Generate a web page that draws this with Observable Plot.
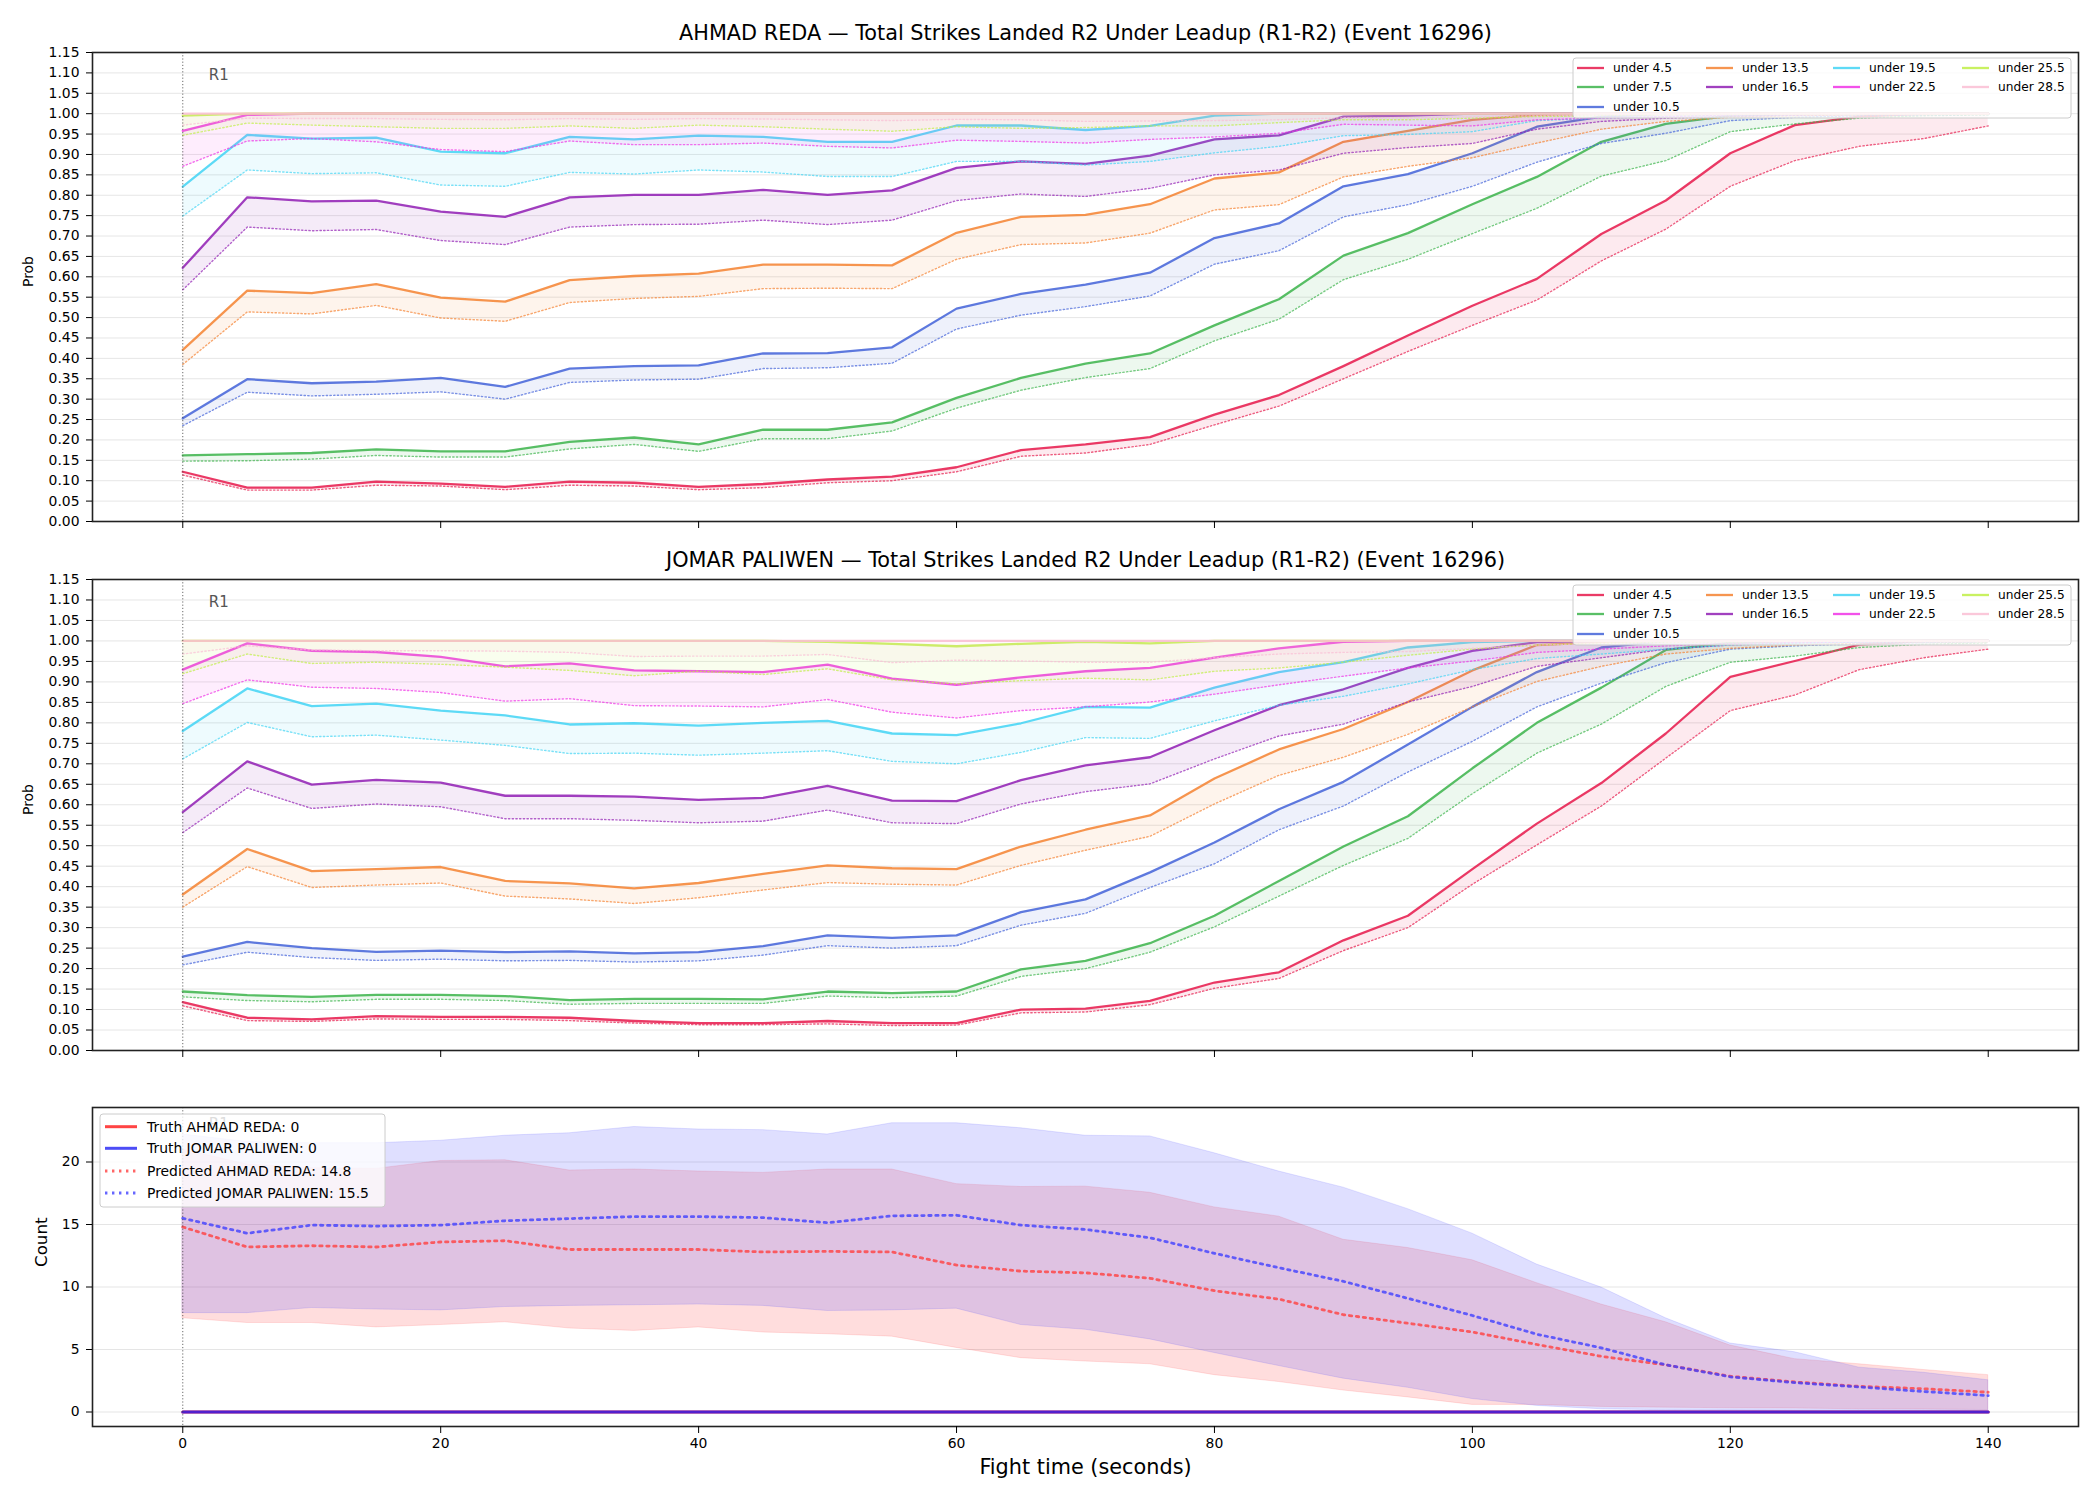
<!DOCTYPE html>
<html><head><meta charset="utf-8">
<script src="https://cdn.jsdelivr.net/npm/d3@7"></script>
<script src="https://cdn.jsdelivr.net/npm/@observablehq/plot@0.6"></script>
<style>
body{margin:0;background:#fff;}
#chart{position:relative;width:2100px;height:1500px;background:#fff;font-family:"DejaVu Sans",sans-serif;}
#chart svg{position:absolute;left:0;}
</style></head><body><div id="chart"></div>
<script>
// ---------- categories ----------
const times = [0,5,10,15,20,25,30,35,40,45,50,55,60,65,70,75,80,85,90,95,100,105,110,115,120,125,130,135,140];
const thresholds = ["under 4.5","under 7.5","under 10.5","under 13.5","under 16.5","under 19.5","under 22.5","under 25.5","under 28.5"];
const seriesColors = ["#e6194b","#3cb44b","#4363d8","#f58231","#911eb4","#42d4f4","#f032e6","#bfef45","#fabed4"];
const fighterA = "AHMAD REDA";
const fighterB = "JOMAR PALIWEN";
const titleSuffix = " — Total Strikes Landed R2 Under Leadup (R1-R2) (Event 16296)";
const roundMarks = [{label:"R1", t:0}];
const probTicks = [0,0.05,0.1,0.15,0.2,0.25,0.3,0.35,0.4,0.45,0.5,0.55,0.6,0.65,0.7,0.75,0.8,0.85,0.9,0.95,1,1.05,1.1,1.15];
const countTicks = [0,5,10,15,20];
const timeTicks = [0,20,40,60,80,100,120,140];

// ---------- AHMAD REDA: probability (solid = line, dotted = lower) ----------
const redaHi_4_5  = [0.122,0.083,0.083,0.098,0.093,0.085,0.098,0.095,0.085,0.092,0.103,0.110,0.133,0.175,0.189,0.207,0.262,0.310,0.381,0.456,0.529,0.595,0.705,0.787,0.903,0.972,0.993,1,1];
const redaLo_4_5  = [0.114,0.077,0.077,0.089,0.087,0.078,0.089,0.087,0.078,0.083,0.095,0.100,0.122,0.160,0.168,0.189,0.237,0.283,0.350,0.417,0.481,0.543,0.639,0.717,0.822,0.885,0.920,0.939,0.970];
const redaHi_7_5  = [0.162,0.165,0.168,0.177,0.172,0.172,0.195,0.206,0.189,0.225,0.225,0.243,0.303,0.352,0.387,0.412,0.481,0.545,0.652,0.707,0.778,0.845,0.931,0.975,0.995,1,1,1,1];
const redaLo_7_5  = [0.148,0.149,0.153,0.162,0.158,0.158,0.178,0.189,0.172,0.203,0.203,0.222,0.278,0.322,0.353,0.375,0.443,0.496,0.593,0.643,0.706,0.768,0.847,0.885,0.956,0.975,0.989,0.995,0.997];
const redaHi_10_5 = [0.253,0.349,0.339,0.343,0.352,0.330,0.375,0.381,0.383,0.412,0.413,0.427,0.522,0.558,0.581,0.610,0.695,0.731,0.822,0.852,0.903,0.968,0.993,1,1,1,1,1,1];
const redaLo_10_5 = [0.235,0.317,0.308,0.312,0.318,0.300,0.341,0.347,0.349,0.375,0.377,0.388,0.472,0.506,0.527,0.553,0.631,0.664,0.747,0.777,0.822,0.881,0.927,0.952,0.983,0.991,0.995,0.997,0.998];
const redaHi_13_5 = [0.421,0.566,0.560,0.582,0.549,0.539,0.592,0.602,0.608,0.630,0.630,0.628,0.708,0.747,0.752,0.778,0.841,0.856,0.931,0.958,0.985,0.997,1,1,1,1,1,1,1];
const redaLo_13_5 = [0.385,0.514,0.509,0.530,0.499,0.491,0.537,0.547,0.552,0.571,0.572,0.571,0.643,0.679,0.683,0.707,0.764,0.777,0.845,0.871,0.892,0.928,0.962,0.981,0.991,0.995,0.997,0.998,0.999];
const redaHi_16_5 = [0.622,0.795,0.785,0.787,0.760,0.747,0.795,0.801,0.801,0.813,0.801,0.812,0.867,0.883,0.877,0.897,0.937,0.947,0.993,0.995,1,1,1,1,1,1,1,1,1];
const redaLo_16_5 = [0.568,0.722,0.713,0.716,0.689,0.679,0.722,0.728,0.729,0.739,0.728,0.739,0.787,0.803,0.797,0.817,0.850,0.862,0.903,0.917,0.927,0.962,0.981,0.989,0.993,0.996,0.998,0.999,0.999];
const redaHi_19_5 = [0.821,0.948,0.939,0.941,0.907,0.903,0.943,0.937,0.946,0.943,0.931,0.931,0.971,0.971,0.960,0.970,0.995,1,1,1,1,1,1,1,1,1,1,1,1];
const redaLo_19_5 = [0.749,0.862,0.853,0.855,0.825,0.822,0.856,0.852,0.862,0.857,0.846,0.846,0.883,0.883,0.874,0.883,0.904,0.920,0.946,0.949,0.956,0.983,0.989,0.993,0.996,0.998,0.999,0.999,1];
const redaHi_22_5 = [0.958,0.997,1,1,1,1,1,1,1,1,1,1,1,1,1,1,1,1,1,1,1,1,1,1,1,1,1,1,1];
const redaLo_22_5 = [0.871,0.933,0.939,0.931,0.912,0.907,0.933,0.924,0.924,0.928,0.920,0.916,0.935,0.932,0.928,0.937,0.943,0.952,0.974,0.972,0.970,0.985,0.989,0.993,0.996,0.998,0.999,0.999,1];
const redaHi_25_5 = [0.995,1,1,1,1,1,1,1,1,1,1,1,1,1,1,1,1,1,1,1,1,1,1,1,1,1,1,1,1];
const redaLo_25_5 = [0.947,0.977,0.972,0.968,0.964,0.964,0.970,0.964,0.972,0.968,0.962,0.957,0.968,0.964,0.966,0.970,0.970,0.978,0.985,0.985,0.989,0.993,0.995,0.997,0.998,0.999,1,1,1];
const redaHi_28_5 = [1,1,1,1,1,1,1,1,1,1,1,1,1,1,1,1,1,1,1,1,1,1,1,1,1,1,1,1,1];
const redaLo_28_5 = [0.972,0.989,0.988,0.988,0.986,0.985,0.988,0.986,0.988,0.987,0.985,0.983,0.986,0.985,0.981,0.982,0.983,0.985,0.990,0.990,0.992,0.995,0.997,0.998,0.999,1,1,1,1];

// ---------- JOMAR PALIWEN ----------
const paliHi_4_5  = [0.118,0.080,0.076,0.084,0.082,0.082,0.080,0.072,0.067,0.067,0.072,0.067,0.067,0.100,0.102,0.121,0.166,0.191,0.269,0.329,0.443,0.554,0.653,0.774,0.912,0.951,0.991,1,1];
const paliLo_4_5  = [0.109,0.073,0.071,0.077,0.076,0.076,0.073,0.067,0.063,0.063,0.065,0.061,0.062,0.092,0.094,0.112,0.152,0.176,0.244,0.300,0.406,0.502,0.597,0.714,0.830,0.868,0.930,0.959,0.980];
const paliHi_7_5  = [0.144,0.135,0.131,0.136,0.136,0.133,0.123,0.126,0.126,0.125,0.144,0.140,0.144,0.198,0.219,0.262,0.329,0.414,0.498,0.572,0.689,0.800,0.886,0.978,0.995,1,1,1,1];
const paliLo_7_5  = [0.131,0.122,0.119,0.125,0.125,0.122,0.113,0.115,0.115,0.115,0.133,0.129,0.133,0.181,0.200,0.240,0.302,0.377,0.452,0.518,0.627,0.726,0.797,0.889,0.948,0.963,0.984,0.992,0.995];
const paliHi_10_5 = [0.229,0.265,0.250,0.241,0.244,0.240,0.242,0.237,0.240,0.255,0.281,0.275,0.281,0.338,0.369,0.435,0.508,0.589,0.656,0.747,0.839,0.924,0.984,1,1,1,1,1,1];
const paliLo_10_5 = [0.209,0.240,0.227,0.220,0.223,0.219,0.220,0.216,0.219,0.233,0.256,0.250,0.256,0.306,0.335,0.398,0.456,0.539,0.597,0.680,0.755,0.839,0.897,0.947,0.980,0.988,0.993,0.996,0.998];
const paliHi_13_5 = [0.381,0.492,0.438,0.443,0.448,0.414,0.408,0.396,0.409,0.431,0.452,0.445,0.443,0.498,0.539,0.574,0.664,0.735,0.785,0.851,0.928,0.990,0.997,1,1,1,1,1,1];
const paliLo_13_5 = [0.350,0.449,0.398,0.404,0.409,0.377,0.370,0.359,0.373,0.392,0.410,0.406,0.404,0.452,0.489,0.523,0.602,0.672,0.716,0.772,0.839,0.901,0.938,0.968,0.982,0.990,0.995,0.997,0.998];
const paliHi_16_5 = [0.582,0.706,0.649,0.661,0.654,0.622,0.622,0.620,0.612,0.617,0.646,0.610,0.609,0.660,0.696,0.716,0.782,0.843,0.882,0.934,0.976,0.997,1,1,1,1,1,1,1];
const paliLo_16_5 = [0.532,0.641,0.591,0.602,0.595,0.566,0.566,0.562,0.556,0.560,0.587,0.556,0.554,0.602,0.632,0.651,0.712,0.768,0.797,0.851,0.889,0.938,0.959,0.980,0.990,0.995,0.997,0.998,0.999];
const paliHi_19_5 = [0.780,0.884,0.841,0.847,0.830,0.818,0.796,0.799,0.793,0.800,0.805,0.774,0.770,0.799,0.839,0.837,0.886,0.924,0.948,0.984,0.997,1,1,1,1,1,1,1,1];
const paliLo_19_5 = [0.712,0.801,0.766,0.770,0.758,0.745,0.725,0.726,0.721,0.726,0.732,0.706,0.700,0.728,0.764,0.762,0.805,0.843,0.865,0.895,0.930,0.957,0.968,0.980,0.990,0.995,0.997,0.998,0.999];
const paliHi_22_5 = [0.930,0.994,0.976,0.973,0.961,0.938,0.945,0.928,0.926,0.924,0.942,0.908,0.893,0.911,0.926,0.934,0.959,0.982,0.998,1,1,1,1,1,1,1,1,1,1];
const paliLo_22_5 = [0.847,0.905,0.887,0.884,0.874,0.853,0.859,0.842,0.841,0.839,0.857,0.826,0.812,0.830,0.839,0.851,0.870,0.893,0.914,0.934,0.951,0.972,0.980,0.988,0.994,0.997,0.998,0.999,1];
const paliHi_25_5 = [1,1,1,1,1,1,1,1,1,1,0.998,0.993,0.987,0.993,0.998,0.994,1,1,1,1,1,1,1,1,1,1,1,1,1];
const paliLo_25_5 = [0.920,0.968,0.945,0.948,0.943,0.936,0.928,0.915,0.926,0.918,0.932,0.905,0.895,0.903,0.909,0.905,0.926,0.934,0.948,0.965,0.980,0.990,0.994,0.996,0.998,0.999,1,1,1];
const paliHi_28_5 = [1,1,1,1,1,1,1,1,1,1,1,1,1,1,1,1,1,1,1,1,1,1,1,1,1,1,1,1,1];
const paliLo_28_5 = [0.968,0.988,0.978,0.976,0.976,0.975,0.972,0.962,0.963,0.963,0.967,0.947,0.953,0.951,0.948,0.948,0.959,0.968,0.972,0.974,0.982,0.990,0.994,0.996,0.998,0.999,1,1,1];

// ---------- counts ----------
const redaTruth      = [0,0,0,0,0,0,0,0,0,0,0,0,0,0,0,0,0,0,0,0,0,0,0,0,0,0,0,0,0];
const paliTruth      = [0,0,0,0,0,0,0,0,0,0,0,0,0,0,0,0,0,0,0,0,0,0,0,0,0,0,0,0,0];
const redaPredicted  = [14.8,13.2,13.3,13.2,13.6,13.7,13.0,13.0,13.0,12.8,12.85,12.8,11.75,11.27,11.13,10.7,9.7,9.03,7.78,7.1,6.4,5.4,4.45,3.77,2.86,2.4,2.05,1.86,1.58];
const paliPredicted  = [15.5,14.3,14.95,14.87,14.95,15.3,15.47,15.63,15.63,15.55,15.14,15.69,15.74,14.95,14.6,13.94,12.69,11.54,10.45,9.09,7.72,6.22,5.13,3.77,2.81,2.35,2.0,1.64,1.31];
const redaCountHi    = [21.0,19.8,19.5,19.45,20.08,20.14,19.32,19.4,19.24,19.13,19.4,19.4,18.23,18.0,18.03,17.54,16.37,15.63,13.78,13.12,12.14,10.31,8.6,7.18,5.32,4.23,3.82,3.36,2.95];
const redaCountLo    = [7.5,7.12,7.12,6.77,6.96,7.18,6.68,6.49,6.77,6.36,6.22,6.03,5.13,4.31,4.04,3.82,2.95,2.4,1.72,1.17,0.57,0.57,0.41,0.35,0.3,0.28,0.22,0.2,0.16];
const paliCountHi    = [22.2,21.6,21.5,21.5,21.7,22.1,22.3,22.8,22.6,22.55,22.2,23.1,23.1,22.7,22.1,22.05,20.7,19.24,17.95,16.23,14.27,11.8,9.96,7.5,5.48,4.78,3.55,3.14,2.54];
const paliCountLo    = [7.91,7.91,8.32,8.2,8.13,8.4,8.49,8.54,8.6,8.49,8.08,8.13,8.27,6.96,6.58,5.81,4.72,3.68,2.67,1.94,1.04,0.49,0.22,0.14,0.12,0.1,0.1,0.1,0.1];

const redaHi = [redaHi_4_5,redaHi_7_5,redaHi_10_5,redaHi_13_5,redaHi_16_5,redaHi_19_5,redaHi_22_5,redaHi_25_5,redaHi_28_5];
const redaLo = [redaLo_4_5,redaLo_7_5,redaLo_10_5,redaLo_13_5,redaLo_16_5,redaLo_19_5,redaLo_22_5,redaLo_25_5,redaLo_28_5];
const paliHi = [paliHi_4_5,paliHi_7_5,paliHi_10_5,paliHi_13_5,paliHi_16_5,paliHi_19_5,paliHi_22_5,paliHi_25_5,paliHi_28_5];
const paliLo = [paliLo_4_5,paliLo_7_5,paliLo_10_5,paliLo_13_5,paliLo_16_5,paliLo_19_5,paliLo_22_5,paliLo_25_5,paliLo_28_5];

const chart = document.getElementById("chart");
const FONT = "DejaVu Sans";
const W = 2100, ML = 92, MR = 22;

function baseStyle(){ return {fontFamily: FONT, fontSize: "13.9px", color: "#000", background: "transparent", overflow: "visible"}; }

function probPanel(opts){
  const {fighter, his, los, top, height, mTop, mBottom, titleDy} = opts;
  const marks = [Plot.gridY(probTicks, {stroke: "#000", strokeOpacity: 0.1, strokeWidth: 1})];
  thresholds.forEach((name, k) => {
    const rows = times.map((t, i) => ({t, hi: his[k][i], lo: los[k][i]}));
    const c = seriesColors[k];
    marks.push(Plot.areaY(rows, {x: "t", y1: "lo", y2: "hi", fill: c, fillOpacity: 0.09}));
    marks.push(Plot.line(rows, {x: "t", y: "lo", stroke: c, strokeOpacity: 0.7, strokeWidth: 1.4, strokeDasharray: "1.4,2.3"}));
    marks.push(Plot.line(rows, {x: "t", y: "hi", stroke: c, strokeOpacity: 0.85, strokeWidth: 2.3}));
  });
  marks.push(Plot.ruleX(roundMarks, {x: "t", stroke: "#444", strokeOpacity: 0.8, strokeWidth: 1, strokeDasharray: "1.2,2"}));
  marks.push(Plot.text(roundMarks, {x: "t", text: "label", frameAnchor: "top", dy: 17, dx: 26, textAnchor: "start", fill: "#555", fontSize: 15}));
  marks.push(Plot.frame({stroke: "#222", strokeWidth: 1.6}));
  marks.push(Plot.axisY(probTicks, {tickFormat: d => d.toFixed(2), tickSize: 6, tickPadding: 7, fontSize: 13.9}));
  marks.push(Plot.axisX(timeTicks, {tickFormat: () => "", tickSize: 7}));
  marks.push(Plot.text([fighter + titleSuffix], {frameAnchor: "top", dy: titleDy, lineAnchor: "bottom", fontSize: 20.8}));
  marks.push(Plot.text(["Prob"], {frameAnchor: "left", dx: -64, rotate: -90, fontSize: 13.9}));
  const svg = Plot.plot({
    width: W, height, marginLeft: ML, marginRight: MR, marginTop: mTop, marginBottom: mBottom,
    x: {domain: [-7, 147], label: null},
    y: {domain: [0, 1.15], label: null},
    style: baseStyle(),
    marks
  });
  svg.style.top = top + "px";
  // legend
  const g = d3.select(svg).append("g").attr("font-family", FONT).attr("font-size", 12.2).attr("text-anchor", "start");
  const bx = 1573, by = mTop + 6;
  g.append("rect").attr("x", bx).attr("y", by).attr("width", 498).attr("height", 60).attr("rx", 3)
    .attr("fill", "#fff").attr("fill-opacity", 0.8).attr("stroke", "#cccccc");
  const colX = [1577, 1706, 1833, 1962];
  const rowY = [mTop + 16, mTop + 35, mTop + 55];
  const layout = [[0,0],[0,1],[0,2],[1,0],[1,1],[2,0],[2,1],[3,0],[3,1]];
  thresholds.forEach((name, k) => {
    const [ci, ri] = layout[k];
    const x = colX[ci], y = rowY[ri];
    g.append("line").attr("x1", x).attr("x2", x + 27).attr("y1", y).attr("y2", y)
      .attr("stroke", seriesColors[k]).attr("stroke-opacity", 0.85).attr("stroke-width", 2.3);
    g.append("text").attr("x", x + 36).attr("y", y).attr("dy", "0.35em").attr("text-anchor", "start")
      .attr("font-size", 12.2).attr("fill", "#000").text(name);
  });
  chart.appendChild(svg);
}

probPanel({fighter: fighterA, his: redaHi, los: redaLo, top: 0, height: 540, mTop: 52, mBottom: 19, titleDy: -13});
probPanel({fighter: fighterB, his: paliHi, los: paliLo, top: 540, height: 530, mTop: 39, mBottom: 20, titleDy: -12.5});

// ---------- count panel ----------
(function(){
  const rows = times.map((t, i) => ({t,
    rTruth: redaTruth[i], bTruth: paliTruth[i], rPred: redaPredicted[i], bPred: paliPredicted[i],
    rHi: redaCountHi[i], rLo: redaCountLo[i], bHi: paliCountHi[i], bLo: paliCountLo[i]}));
  const RED = "#ff4040", BLUE = "#4040ff";
  const DOT = "2.4,4.6";
  const mTop = 37, mBottom = 74, height = 430;
  const marks = [
    Plot.gridY(countTicks, {stroke: "#000", strokeOpacity: 0.1, strokeWidth: 1}),
    Plot.areaY(rows, {x: "t", y1: "rLo", y2: "rHi", fill: RED, fillOpacity: 0.18, stroke: RED, strokeOpacity: 0.15, strokeWidth: 1}),
    Plot.areaY(rows, {x: "t", y1: "bLo", y2: "bHi", fill: BLUE, fillOpacity: 0.17, stroke: BLUE, strokeOpacity: 0.15, strokeWidth: 1}),
    Plot.line(rows, {x: "t", y: "rTruth", stroke: "#ff3030", strokeOpacity: 0.9, strokeWidth: 3}),
    Plot.line(rows, {x: "t", y: "bTruth", stroke: "#3a1ae0", strokeOpacity: 0.88, strokeWidth: 3}),
    Plot.line(rows, {x: "t", y: "rPred", stroke: "#ff4040", strokeOpacity: 0.8, strokeWidth: 2.8, strokeDasharray: DOT}),
    Plot.line(rows, {x: "t", y: "bPred", stroke: "#4040ff", strokeOpacity: 0.8, strokeWidth: 2.8, strokeDasharray: DOT}),
    Plot.ruleX(roundMarks, {x: "t", stroke: "#444", strokeOpacity: 0.8, strokeWidth: 1, strokeDasharray: "1.2,2"}),
    Plot.text(roundMarks, {x: "t", text: "label", frameAnchor: "top", dy: 11, dx: 26, textAnchor: "start", fill: "#555", fontSize: 15}),
    Plot.frame({stroke: "#222", strokeWidth: 1.6}),
    Plot.axisY(countTicks, {tickFormat: d => String(d), tickSize: 6, tickPadding: 7, fontSize: 13.9}),
    Plot.axisX(timeTicks, {tickFormat: d => String(d), tickSize: 7, tickPadding: 5, fontSize: 13.9}),
    Plot.text(["Count"], {frameAnchor: "left", dx: -51, rotate: -90, fontSize: 16.7}),
    Plot.text(["Fight time (seconds)"], {frameAnchor: "bottom", dy: 47, fontSize: 20.8})
  ];
  const svg = Plot.plot({
    width: W, height, marginLeft: ML, marginRight: MR, marginTop: mTop, marginBottom: mBottom,
    x: {domain: [-7, 147], label: null},
    y: {domain: [-1.16, 24.36], label: null},
    style: baseStyle(),
    marks
  });
  svg.style.top = "1070px";
  const g = d3.select(svg).append("g").attr("font-family", FONT).attr("font-size", 13.9).attr("text-anchor", "start");
  const bx = ML + 8, by = mTop + 7;
  g.append("rect").attr("x", bx).attr("y", by).attr("width", 285).attr("height", 93).attr("rx", 3)
    .attr("fill", "#fff").attr("fill-opacity", 0.8).attr("stroke", "#cccccc");
  const items = [
    {label: `Truth ${fighterA}: ${redaTruth[redaTruth.length-1]}`, color: "#ff3030", dash: null},
    {label: `Truth ${fighterB}: ${paliTruth[paliTruth.length-1]}`, color: "#3a3af5", dash: null},
    {label: `Predicted ${fighterA}: ${redaPredicted[0].toFixed(1)}`, color: "#ff4040", dash: DOT},
    {label: `Predicted ${fighterB}: ${paliPredicted[0].toFixed(1)}`, color: "#4040ff", dash: DOT}
  ];
  const rowY = [mTop + 19.7, mTop + 41.3, mTop + 64, mTop + 86];
  items.forEach((it, k) => {
    const y = rowY[k];
    const ln = g.append("line").attr("x1", 105).attr("x2", 137).attr("y1", y).attr("y2", y)
      .attr("stroke", it.color).attr("stroke-opacity", it.dash ? 0.8 : 0.9).attr("stroke-width", it.dash ? 2.8 : 3);
    if (it.dash) ln.attr("stroke-dasharray", it.dash);
    g.append("text").attr("x", 147).attr("y", y).attr("dy", "0.35em").attr("text-anchor", "start")
      .attr("font-size", 13.9).attr("fill", "#000").text(it.label);
  });
  chart.appendChild(svg);
})();
</script>
</body></html>
